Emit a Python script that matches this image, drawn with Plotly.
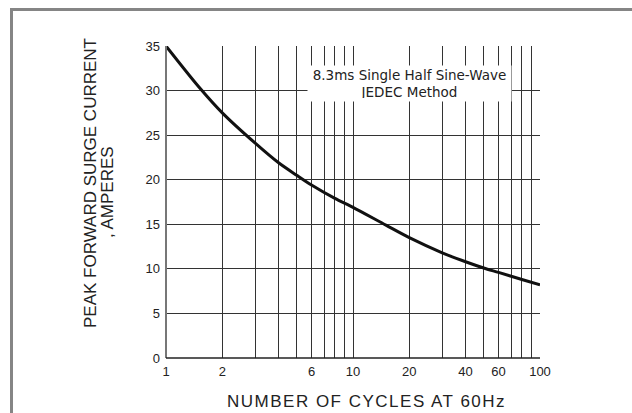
import plotly.graph_objects as go

# Data
cycles = [1, 1.5, 2, 3, 4, 5, 6, 8, 10, 15, 20, 30, 40, 50, 60, 80, 100]
current = [35, 30.4, 27.5, 24.1, 21.9, 20.5, 19.4, 17.9, 16.9, 14.9, 13.5, 11.8, 10.8, 10.1, 9.6, 8.8, 8.2]

x_grid = [1, 2, 3, 4, 5, 6, 7, 8, 9, 10, 20, 30, 40, 50, 60, 70, 80, 90, 100]
x_labels = ['1', '2', '', '', '', '6', '', '', '', '10', '20', '', '40', '', '60', '', '', '', '100']
y_ticks = [0, 5, 10, 15, 20, 25, 30, 35]

W, H = 632, 413
L, R, T, B = 166, 92, 46, 55
pw, ph = W - L - R, H - T - B

def px_x(p):
    return (p - L) / pw

def px_y(p):
    return (H - B - p) / ph

FONT = "Liberation Sans, Arial, sans-serif"
WIDE = "DejaVu Sans, sans-serif"
FRAME = dict(color="#858585", width=3)

fig = go.Figure()
fig.add_trace(go.Scatter(
    x=cycles, y=current, mode="lines",
    line=dict(color="#111111", width=3, shape="spline", smoothing=0.8),
    hoverinfo="skip", showlegend=False,
))

fig.update_layout(
    width=W, height=H,
    margin=dict(l=L, r=R, t=T, b=B, pad=0),
    paper_bgcolor="white", plot_bgcolor="white",
    font=dict(family=FONT, color="#222222", size=13),
    xaxis=dict(
        type="log", range=[0, 2],
        tickvals=x_grid, ticktext=x_labels,
        showgrid=True, gridcolor="#333333", gridwidth=1,
        showline=False, zeroline=False, ticks="",
        ticklabelstandoff=4,
        tickfont=dict(size=13, color="#222222"),
    ),
    yaxis=dict(
        range=[0, 35], tickvals=y_ticks,
        showgrid=True, gridcolor="#333333", gridwidth=1,
        showline=False, zeroline=False, ticks="",
        ticklabelstandoff=5,
        tickfont=dict(size=13, color="#222222"),
    ),
    shapes=[
        dict(type="line", xref="paper", yref="paper", x0=0, x1=0, y0=0, y1=1,
             line=dict(color="#777777", width=2)),
        dict(type="line", xref="paper", yref="paper", x0=0, x1=1, y0=0, y1=0,
             line=dict(color="#222222", width=1.5)),
        # outer gray frame (left and top edges)
        dict(type="line", xref="paper", yref="paper",
             x0=px_x(11.5), x1=px_x(11.5), y0=px_y(413), y1=px_y(8),
             line=FRAME, layer="above"),
        dict(type="line", xref="paper", yref="paper",
             x0=px_x(10), x1=px_x(632), y0=px_y(9.5), y1=px_y(9.5),
             line=FRAME, layer="above"),
    ],
    annotations=[
        dict(text="8.3ms Single Half Sine-Wave<br>JEDEC Method",
             xref="paper", yref="paper", x=px_x(409.5), y=px_y(83.5),
             xanchor="center", yanchor="middle", showarrow=False,
             bgcolor="white", width=197, height=29, borderpad=3,
             font=dict(family=WIDE, size=13.5, color="#222222"), align="center"),
        dict(text="PEAK FORWARD SURGE CURRENT",
             xref="paper", yref="paper", x=px_x(90), y=px_y(183),
             xanchor="center", yanchor="middle", showarrow=False, textangle=-90,
             font=dict(family=FONT, size=17, color="#222222")),
        dict(text=", AMPERES",
             xref="paper", yref="paper", x=px_x(107), y=px_y(192),
             xanchor="center", yanchor="middle", showarrow=False, textangle=-90,
             font=dict(family=FONT, size=17, color="#222222")),
        dict(text='<span style="letter-spacing:1.5px">NUMBER OF CYCLES AT 60Hz</span>',
             xref="paper", yref="paper", x=px_x(366), y=px_y(401),
             xanchor="center", yanchor="middle", showarrow=False,
             font=dict(family=FONT, size=17, color="#222222")),
    ],
)

fig.write_html("out.html", config={"displayModeBar": False},
               post_script="document.body.style.margin='0';document.body.style.overflow='hidden';")
